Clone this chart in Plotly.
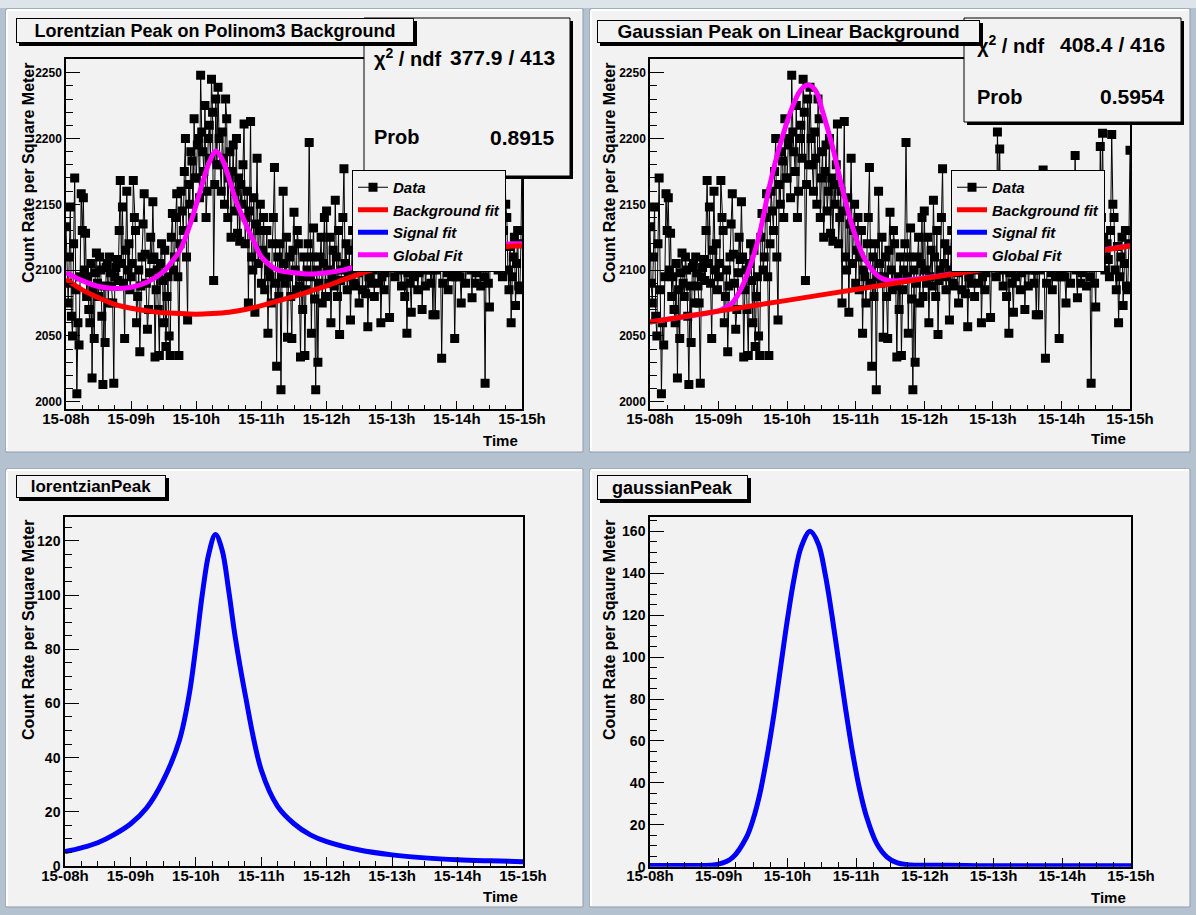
import pandas as pd
import plotly.graph_objects as go

W, H = 1196, 915
DAY0 = pd.Timestamp("2009-06-15 08:00:00")
FONT = "Liberation Sans"

# ---------------- data ----------------
# measured count rate, one point per minute from 15-08h to 15-15h
data_rate = [
    2133, 2090, 2075, 2110, 2148, 2065, 2050, 2120, 2170, 2085, 2006, 2060, 2043, 2095, 2158, 2130, 2155, 2100, 2128, 2080,
    2095, 2070, 2060, 2105, 2018, 2085, 2048, 2098, 2113, 2090, 2080, 2110, 2100, 2065, 2013, 2088, 2045, 2102, 2105, 2075,
    2110, 2098, 2088, 2075, 2014, 2095, 2102, 2108, 2092, 2130, 2168, 2105, 2148, 2090, 2048, 2115, 2160, 2100, 2120, 2085,
    2095, 2105, 2168, 2140, 2130, 2060, 2080, 2100, 2038, 2088, 2110, 2135, 2158, 2112, 2090, 2055, 2070, 2098, 2125, 2108,
    2152, 2110, 2034, 2085, 2100, 2070, 2035, 2105, 2120, 2092, 2060, 2115, 2042, 2080, 2095, 2050, 2035, 2125, 2143, 2100,
    2110, 2140, 2158, 2095, 2035, 2120, 2160, 2145, 2130, 2175, 2200, 2110, 2062, 2165, 2150, 2190, 2183, 2140, 2215, 2170,
    2170, 2195, 2200, 2155, 2248, 2205, 2190, 2175, 2225, 2140, 2160, 2200, 2210, 2185, 2245, 2220, 2092, 2165, 2230, 2180,
    2239, 2200, 2180, 2160, 2205, 2185, 2150, 2230, 2215, 2140, 2170, 2190, 2125, 2175, 2195, 2145, 2160, 2200, 2128, 2170,
    2122, 2165, 2150, 2180, 2211, 2120, 2140, 2160, 2075, 2145, 2213, 2110, 2100, 2155, 2068, 2135, 2185, 2105, 2130, 2150,
    2090, 2115, 2140, 2085, 2110, 2130, 2052, 2100, 2095, 2075, 2120, 2140, 2178, 2090, 2027, 2110, 2080, 2120, 2009, 2095,
    2160, 2105, 2090, 2125, 2049, 2095, 2110, 2080, 2048, 2115, 2144, 2100, 2085, 2130, 2120, 2088, 2034, 2095, 2070, 2110,
    2035, 2085, 2100, 2120, 2197, 2095, 2052, 2110, 2132, 2078, 2009, 2100, 2030, 2090, 2110, 2125, 2075, 2105, 2140, 2080,
    2145, 2100, 2090, 2125, 2060, 2095, 2115, 2088, 2153, 2110, 2080, 2130, 2051, 2092, 2100, 2140, 2177, 2105, 2120, 2085,
    2095, 2115, 2062, 2100, 2130, 2090, 2088, 2120, 2110, 2098, 2075, 2108, 2140, 2085, 2100, 2125, 2082, 2112, 2057, 2095,
    2105, 2090, 2120, 2100, 2080, 2125, 2135, 2110, 2090, 2130, 2060, 2095, 2115, 2085, 2098, 2120, 2145, 2102, 2064, 2112,
    2110, 2125, 2130, 2095, 2205, 2160, 2192, 2115, 2100, 2088, 2140, 2105, 2080, 2120, 2052, 2098, 2120, 2090, 2068, 2110,
    2095, 2120, 2150, 2105, 2085, 2098, 2115, 2135, 2070, 2110, 2130, 2088, 2100, 2125, 2160, 2112, 2090, 2100, 2066, 2118,
    2066, 2100, 2120, 2135, 2176, 2115, 2033, 2090, 2105, 2125, 2140, 2098, 2085, 2118, 2110, 2130, 2095, 2108, 2048, 2095,
    2100, 2112, 2130, 2095, 2075, 2108, 2115, 2128, 2090, 2105, 2145, 2118, 2187, 2100, 2079, 2135, 2120, 2090, 2098, 2115,
    2135, 2105, 2088, 2120, 2110, 2095, 2014, 2110, 2125, 2090, 2072, 2130, 2150, 2115, 2194, 2140, 2204, 2125, 2100, 2110,
    2120, 2108, 2095, 2130, 2203, 2150, 2140, 2100, 2085, 2118, 2060, 2095, 2110, 2125, 2073, 2105, 2130, 2088, 2085, 2120,
    2191,
]

# Lorentzian fit on polinom3 background (top-left)
lor_bg_hours = [8.0, 8.25, 8.5, 8.75, 9.0, 9.25, 9.5, 9.75, 10.0, 10.25, 10.5, 10.75,
                11.0, 11.25, 11.5, 11.75, 12.0, 12.25, 12.5, 12.75, 13.0, 13.25, 13.5,
                13.75, 14.0, 14.25, 14.5, 14.75, 15.0]
lor_bg_rate = [2093, 2085, 2079, 2074, 2071, 2069, 2067.5, 2067, 2066.5, 2067, 2068, 2070,
               2073, 2076.5, 2080, 2084, 2088, 2092.5, 2097, 2101, 2105, 2108, 2111,
               2113, 2115, 2116.5, 2117.5, 2118, 2118.5]
lor_glob_hours = [8.0, 8.25, 8.5, 8.75, 9.0, 9.25, 9.5, 9.65, 9.75, 9.9, 10.0, 10.1, 10.2,
                  10.3, 10.4, 10.5, 10.6, 10.75, 10.9, 11.0, 11.25, 11.5, 11.75, 12.0,
                  12.25, 12.5, 12.75, 13.0, 13.5, 14.0, 14.5, 15.0]
lor_glob_rate = [2098, 2092, 2087.5, 2086, 2087, 2091, 2099, 2108, 2115, 2134, 2150, 2167, 2182,
                 2190.5, 2184, 2170, 2154, 2136, 2120, 2110, 2100, 2098, 2097, 2098,
                 2100, 2103, 2106, 2109, 2114, 2117, 2119.3, 2120]

# Gaussian fit on linear background (top-right)
gau_bg_hours = [8.0, 9.0, 10.0, 11.0, 12.0, 13.0, 14.0, 15.0]
gau_bg_rate = [2060.5, 2068.8, 2077, 2085.3, 2093.5, 2101.8, 2110, 2118.3]
gau_glob_hours = [8.0, 8.5, 9.0, 9.1, 9.2, 9.34, 9.49, 9.6, 9.74, 9.89, 10.06, 10.2, 10.31,
                  10.42, 10.51, 10.66, 10.8, 10.97, 11.14, 11.34, 11.5, 11.75, 12.0, 12.5,
                  13.0, 13.5, 14.0, 14.5, 15.0]
gau_glob_rate = [2060.5, 2064.6, 2069, 2071.5, 2075, 2087, 2107.7, 2128, 2163, 2194, 2221.7,
                 2237, 2240.7, 2236, 2221.7, 2194, 2163, 2130, 2107.7, 2095, 2092, 2092.5,
                 2094, 2098, 2102, 2106, 2110.5, 2114.5, 2118.5]

# signal components (bottom panels)
lor_peak_hours = [8.0, 8.25, 8.5, 8.75, 9.0, 9.25, 9.5, 9.75, 9.9, 10.0, 10.1, 10.2, 10.3,
                  10.4, 10.5, 10.6, 10.75, 11.0, 11.25, 11.5, 11.75, 12.0, 12.5, 13.0,
                  13.5, 14.0, 14.5, 15.0]
lor_peak_rate = [5.3, 6.7, 8.6, 11.6, 15.5, 21.5, 31.5, 46.5, 63.5, 81, 100.5, 115.5, 122.3,
                 116.7, 102, 84.7, 63.8, 35.4, 22, 15.6, 11.5, 9, 5.9, 4.1,
                 3.0, 2.3, 1.9, 1.6]
gau_peak_hours = [8.0, 8.5, 9.0, 9.2, 9.4, 9.5, 9.6, 9.7, 9.8, 9.9, 10.0, 10.1, 10.2, 10.33,
                  10.45, 10.55, 10.65, 10.75, 10.85, 10.95, 11.05, 11.15, 11.3, 11.45,
                  11.6, 11.8, 12.0, 12.6, 13.0, 15.0]
gau_peak_rate = [0.6, 0.6, 1.2, 4.3, 13.8, 22.5, 35, 52, 72, 95, 118, 138, 152.5, 160,
                 154, 139.5, 119.5, 97, 74.5, 54, 37, 24, 11, 4.6,
                 1.8, 0.8, 0.7, 0.6, 0.4, 0.4]

tick_hours = [8, 9, 10, 11, 12, 13, 14, 15]
tick_text = ["15-08h", "15-09h", "15-10h", "15-11h", "15-12h", "15-13h", "15-14h", "15-15h"]

panel_titles = ["Lorentzian Peak on Polinom3 Background", "Gaussian Peak on Linear Background",
                "lorentzianPeak", "gaussianPeak"]
y_titles = ["Count Rate per Square Meter", "Count Rate per Sqaure Meter",
            "Count Rate per Square Meter", "Count Rate per Sqaure Meter"]
stats_tl = [("χ<sup>2</sup> / ndf", "377.9 / 413"), ("Prob", "0.8915")]
stats_tr = [("χ<sup>2</sup> / ndf", "408.4 / 416"), ("Prob", "0.5954")]
legend_names = ["Data", "Background fit", "Signal fit", "Global Fit"]

RED, BLUE, MAG = "#ff0000", "#0000ff", "#ff00ff"
PANEL = "#f2f2f2"
OUTER = "#b4c1ce"


def to_time(hours):
    return [DAY0 + pd.Timedelta(hours=h - 8) for h in hours]


data_time = pd.date_range(DAY0, periods=len(data_rate), freq="1min")


def px(x):
    return x / W


def py(y):
    return 1 - y / H


def xaxis(x0, x1, anchor):
    return dict(domain=[px(x0), px(x1)], anchor=anchor, type="date",
                range=[DAY0, DAY0 + pd.Timedelta(hours=7)], automargin=False,
                tickmode="array", tickvals=to_time(tick_hours), ticktext=tick_text,
                ticks="inside", ticklen=9, tickwidth=1, tickcolor="black",
                ticklabelstandoff=-5,
                minor=dict(ticks="inside", ticklen=5, tickwidth=1, tickcolor="black",
                           tickmode="linear", tick0=DAY0, dtick=15 * 60 * 1000),
                showline=True, linecolor="black", linewidth=1.5, mirror=True,
                showgrid=False, zeroline=False,
                tickfont=dict(family=FONT, size=15, color="black", weight="bold"))


def yaxis(top, bottom, anchor, rng, dtick, mdtick, fsize):
    return dict(domain=[py(bottom), py(top)], anchor=anchor, range=rng, automargin=False,
                tickmode="linear", tick0=0, dtick=dtick,
                ticks="inside", ticklen=14, tickwidth=1, tickcolor="black",
                minor=dict(ticks="inside", ticklen=7, tickwidth=1, tickcolor="black",
                           tick0=0, dtick=mdtick),
                showline=True, linecolor="black", linewidth=1.5, mirror=True,
                showgrid=False, zeroline=False,
                tickfont=dict(family=FONT, size=fsize, color="black", weight="bold"))


fig = go.Figure()

# ---- top panels: data + fits ----
for xa, ya, lg, bg_h, bg_v, gl_h, gl_v, sg_h, sg_v in [
    ("x", "y", "legend", lor_bg_hours, lor_bg_rate, lor_glob_hours, lor_glob_rate,
     lor_peak_hours, lor_peak_rate),
    ("x2", "y2", "legend2", gau_bg_hours, gau_bg_rate, gau_glob_hours, gau_glob_rate,
     gau_peak_hours, gau_peak_rate),
]:
    fig.add_trace(go.Scatter(x=data_time, y=data_rate, mode="lines+markers", name=legend_names[0],
                             line=dict(color="black", width=1),
                             marker=dict(symbol="square", size=9, color="black"),
                             xaxis=xa, yaxis=ya, legend=lg, legendrank=1))
    fig.add_trace(go.Scatter(x=to_time(sg_h), y=sg_v, mode="lines", name=legend_names[2],
                             line=dict(color=BLUE, width=5, shape="spline"),
                             xaxis=xa, yaxis=ya, legend=lg, legendrank=3))
    fig.add_trace(go.Scatter(x=to_time(gl_h), y=gl_v, mode="lines", name=legend_names[3],
                             line=dict(color=MAG, width=5, shape="spline"),
                             xaxis=xa, yaxis=ya, legend=lg, legendrank=4))
    fig.add_trace(go.Scatter(x=to_time(bg_h), y=bg_v, mode="lines", name=legend_names[1],
                             line=dict(color=RED, width=5, shape="spline"),
                             xaxis=xa, yaxis=ya, legend=lg, legendrank=2))

# ---- bottom panels: signal components ----
fig.add_trace(go.Scatter(x=to_time(lor_peak_hours), y=lor_peak_rate, mode="lines",
                         line=dict(color=BLUE, width=5, shape="spline"),
                         xaxis="x3", yaxis="y3", showlegend=False))
fig.add_trace(go.Scatter(x=to_time(gau_peak_hours), y=gau_peak_rate, mode="lines",
                         line=dict(color=BLUE, width=5, shape="spline"),
                         xaxis="x4", yaxis="y4", showlegend=False))

# ---- shapes ----
shapes = []
shapes.append(dict(type="rect", xref="paper", yref="paper", x0=0, x1=1, y0=py(8), y1=1,
                   fillcolor="#dde4ea", line=dict(width=0), layer="below"))
for (x0, y0, x1, y1) in [(6, 9, 583, 452), (590, 9, 1190, 452), (6, 469, 583, 907), (590, 469, 1190, 907)]:
    shapes.append(dict(type="rect", xref="paper", yref="paper", x0=px(x0), x1=px(x1), y0=py(y1), y1=py(y0),
                       fillcolor=PANEL, line=dict(color="#8e9db0", width=1), layer="below"))
    shapes.append(dict(type="line", xref="paper", yref="paper", x0=px(x0 + 1), x1=px(x1 - 1), y0=py(y0 + 1), y1=py(y0 + 1),
                       line=dict(color="white", width=2), layer="below"))
    shapes.append(dict(type="line", xref="paper", yref="paper", x0=px(x0 + 1), x1=px(x0 + 1), y0=py(y0 + 1), y1=py(y1 - 1),
                       line=dict(color="white", width=2), layer="below"))


def box(x0, y0, x1, y1, shadow=3):
    out = []
    if shadow:
        out.append(dict(type="rect", xref="paper", yref="paper", x0=px(x0 + shadow), x1=px(x1 + shadow),
                        y0=py(y1 + shadow), y1=py(y0 + shadow), fillcolor="black", line=dict(width=0), layer="above"))
    out.append(dict(type="rect", xref="paper", yref="paper", x0=px(x0), x1=px(x1), y0=py(y1), y1=py(y0),
                    fillcolor=PANEL, line=dict(color="black", width=1), layer="above"))
    return out


shapes += box(364, 18, 570, 176)
shapes += box(964, 18, 1181, 122)
title_boxes = [(16, 18, 414, 43), (597, 20, 980, 43), (16, 475, 166, 498), (597, 475, 748, 500)]
for (x0, y0, x1, y1) in title_boxes:
    shapes.append(dict(type="rect", xref="paper", yref="paper", x0=px(x0 + 3), x1=px(x1 + 3),
                       y0=py(y1 + 3), y1=py(y0 + 3), fillcolor="black", line=dict(width=0), layer="above"))

# ---- annotations ----
ann = []


def bold(s):
    return dict(family=FONT, size=s, color="black", weight="bold")


def text(x, y, t, size, xanchor="left", yanchor="middle", angle=0):
    ann.append(dict(xref="paper", yref="paper", x=px(x), y=py(y), text=t, showarrow=False,
                    xanchor=xanchor, yanchor=yanchor, textangle=angle, font=bold(size)))


# stats text
for (lab, val), yy in zip(stats_tl, [57, 137]):
    text(372, yy, lab, 20)
    text(557, yy, val, 21, xanchor="right")
for (lab, val), yy in zip(stats_tr, [44, 97]):
    text(975, yy, lab, 20)
    text(1167, yy, val, 21, xanchor="right")

# title boxes (drawn over the stats boxes)
for (x0, y0, x1, y1), t, s in zip(title_boxes, panel_titles, [18, 19, 17, 18]):
    ann.append(dict(xref="paper", yref="paper", x=px(x0), y=py(y0), xanchor="left", yanchor="top",
                    width=x1 - x0 - 2, height=y1 - y0 - 2, borderwidth=1, borderpad=0,
                    bordercolor="black", bgcolor=PANEL, text=t, showarrow=False, align="center",
                    valign="middle", font=bold(s)))

# axis titles
for (xx, yy), t in zip([(28, 61), (609, 61), (28, 518), (609, 518)], y_titles):
    text(xx, yy, t, 16, xanchor="center", yanchor="top", angle=-90)
for xx, yy in [(520, 440), (1128, 438), (520, 896), (1128, 897)]:
    text(xx, yy, "Time", 15, xanchor="right")

legend_common = dict(xanchor="left", yanchor="top", bgcolor=PANEL, bordercolor="black", borderwidth=1,
                     font=dict(family=FONT, size=15, color="black", style="italic", weight="bold"),
                     itemwidth=30, tracegroupgap=0, traceorder="normal")

fig.update_layout(
    width=W, height=H, margin=dict(l=0, r=0, t=0, b=0, pad=0, autoexpand=False),
    paper_bgcolor=OUTER, plot_bgcolor=PANEL,
    xaxis=xaxis(66, 522, "y"),
    yaxis=yaxis(59.3, 409.3, "x", [1994.2, 2260.2], 50, 10, 12),
    xaxis2=xaxis(650, 1130, "y2"),
    yaxis2=yaxis(59.3, 409.3, "x2", [1994.2, 2260.2], 50, 10, 12),
    xaxis3=xaxis(65, 523, "y3"),
    yaxis3=yaxis(516.7, 866, "x3", [0, 128.9], 20, 5, 14),
    xaxis4=xaxis(650, 1131, "y4"),
    yaxis4=yaxis(516.7, 866.7, "x4", [0, 167], 20, 5, 14),
    legend=dict(x=px(352), y=py(170), **legend_common),
    legend2=dict(x=px(951), y=py(170), **legend_common),
    shapes=shapes, annotations=ann, showlegend=True, hovermode=False,
)

fig.write_html("out.html", config={"displayModeBar": False},
               post_script="document.body.style.margin='0px';document.body.style.background='" + OUTER + "';")
